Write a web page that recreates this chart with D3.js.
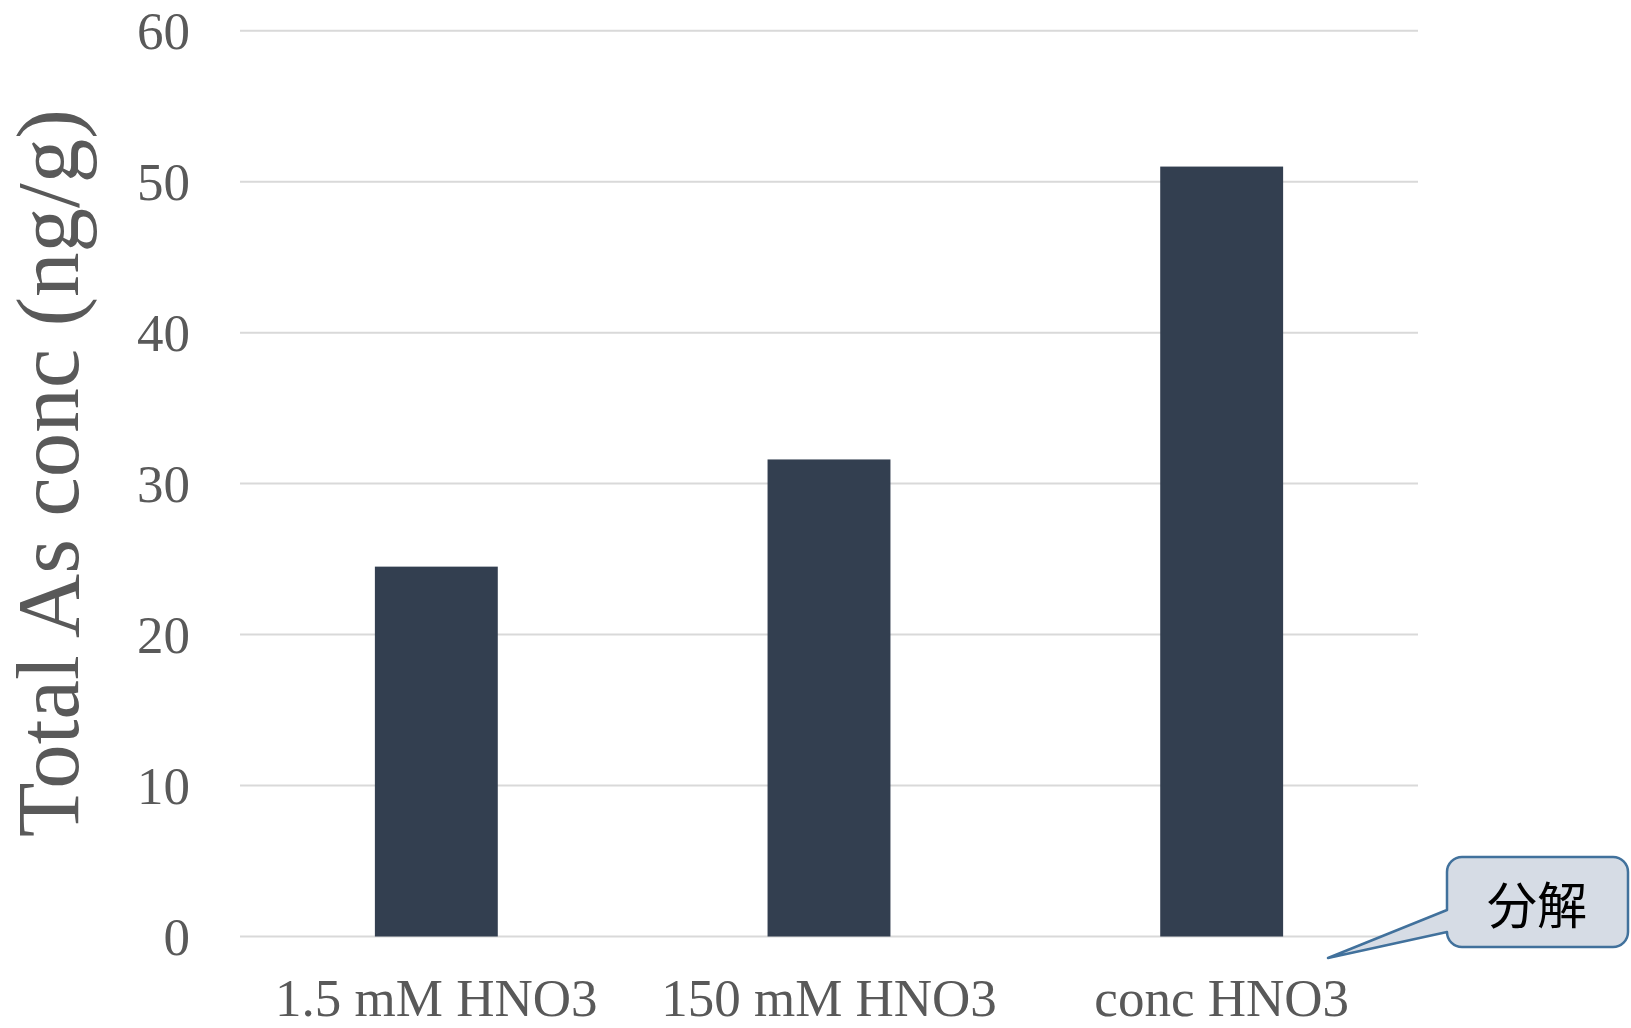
<!DOCTYPE html>
<html>
<head>
<meta charset="utf-8">
<script src="https://cdn.jsdelivr.net/npm/d3@7"></script>
<style>
  html, body { margin: 0; padding: 0; background: #ffffff; }
  svg { display: block; }
</style>
</head>
<body>
<svg id="chart" width="1631" height="1028"></svg>
<script>
// Total arsenic concentration by extraction condition
const categories = ["1.5 mM HNO3", "150 mM HNO3", "conc HNO3"];
const values = [24.5, 31.6, 51.0];
const yTicks = [0, 10, 20, 30, 40, 50, 60];
const yTitle = "Total As conc (ng/g)";
const calloutText = "分解";

const svg = d3.select("#chart");
const plot = { left: 240, right: 1418, top: 30.7, bottom: 936.5 };

const x = d3.scaleBand()
  .domain(categories)
  .range([plot.left, plot.right])
  .paddingInner(0.687)
  .paddingOuter(0.3435);

const y = d3.scaleLinear()
  .domain([0, 60])
  .range([plot.bottom, plot.top]);

const serif = "'Liberation Serif', 'DejaVu Serif', serif";

// Horizontal gridlines
svg.append("g")
  .selectAll("line")
  .data(yTicks)
  .join("line")
  .attr("x1", plot.left)
  .attr("x2", plot.right)
  .attr("y1", d => y(d))
  .attr("y2", d => y(d))
  .attr("stroke", "#d9d9d9")
  .attr("stroke-width", 2);

// Bars
svg.append("g")
  .selectAll("rect")
  .data(values)
  .join("rect")
  .attr("x", (d, i) => x(categories[i]))
  .attr("y", d => y(d))
  .attr("width", x.bandwidth())
  .attr("height", d => y(0) - y(d))
  .attr("fill", "#333f50");

// Y axis tick labels
const yAxis = d3.axisLeft(y).tickValues(yTicks).tickSize(0).tickPadding(0);
const gy = svg.append("g")
  .attr("transform", `translate(190,0)`)
  .call(yAxis);
gy.select(".domain").remove();
gy.selectAll("text")
  .attr("font-family", serif)
  .attr("font-size", 53)
  .attr("fill", "#595959")
  .attr("dy", "0.34em");

// X axis category labels
const xAxis = d3.axisBottom(x).tickSize(0).tickPadding(0);
const gx = svg.append("g")
  .attr("transform", `translate(0,1016)`)
  .call(xAxis);
gx.select(".domain").remove();
gx.selectAll("text")
  .attr("font-family", serif)
  .attr("font-size", 53)
  .attr("fill", "#595959")
  .attr("dy", 0);

// Y axis title
svg.append("text")
  .attr("transform", "translate(78,473) rotate(-90)")
  .attr("text-anchor", "middle")
  .attr("font-family", serif)
  .attr("font-size", 89)
  .attr("fill", "#595959")
  .text(yTitle);

// Callout bubble with pointer
const box = { x: 1447, y: 857, w: 181, h: 90, r: 15 };
const tip = [1328, 958];
const baseTop = 910, baseBot = 932;
const path = d3.path();
path.moveTo(box.x + box.r, box.y);
path.lineTo(box.x + box.w - box.r, box.y);
path.arcTo(box.x + box.w, box.y, box.x + box.w, box.y + box.r, box.r);
path.lineTo(box.x + box.w, box.y + box.h - box.r);
path.arcTo(box.x + box.w, box.y + box.h, box.x + box.w - box.r, box.y + box.h, box.r);
path.lineTo(box.x + box.r, box.y + box.h);
path.arcTo(box.x, box.y + box.h, box.x, box.y + box.h - box.r, box.r);
path.lineTo(box.x, baseBot);
path.lineTo(tip[0], tip[1]);
path.lineTo(box.x, baseTop);
path.lineTo(box.x, box.y + box.r);
path.arcTo(box.x, box.y, box.x + box.r, box.y, box.r);
path.closePath();

svg.append("path")
  .attr("d", path.toString())
  .attr("fill", "#d6dce5")
  .attr("stroke", "#41719c")
  .attr("stroke-width", 2.5)
  .attr("stroke-linejoin", "round");

svg.append("text")
  .attr("x", 1537)
  .attr("y", 906)
  .attr("dy", "0.36em")
  .attr("text-anchor", "middle")
  .attr("font-family", "'Noto Sans CJK JP', 'Noto Sans CJK SC', sans-serif")
  .attr("font-size", 50)
  .attr("fill", "#000000")
  .text(calloutText);
</script>
</body>
</html>
